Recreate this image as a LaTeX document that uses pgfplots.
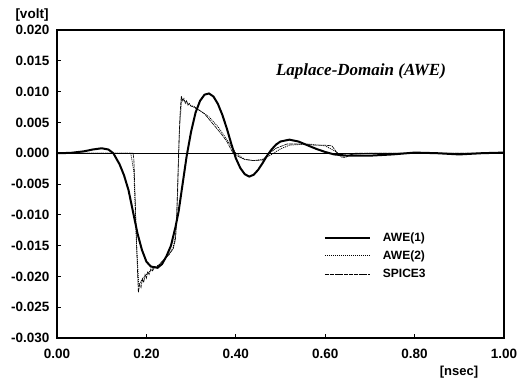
\documentclass[border=0pt]{standalone}
\usepackage{pgfplots}
\pgfplotsset{compat=1.18}
\usepackage{fontspec}
\setmainfont{Liberation Sans}
\newfontfamily\titlefont{Liberation Serif}
\begin{document}
\begin{tikzpicture}[x=1pt,y=1pt]
\useasboundingbox (0,0) rectangle (524,381);
\begin{axis}[
  at={(57pt,43pt)}, anchor=south west,
  scale only axis, width=447pt, height=308pt,
  xmin=0, xmax=1, ymin=-0.030, ymax=0.020,
  axis line style={line width=1.6pt},
  xtick={0,0.2,0.4,0.6,0.8,1.0},
  ytick={-0.030,-0.025,-0.020,-0.015,-0.010,-0.005,0,0.005,0.010,0.015,0.020},
  tick align=inside, xtick pos=bottom, ytick pos=left,
  major tick length=4pt,
  tick style={line width=1pt, black},
  /pgf/number format/assume math mode=true,
  xticklabel style={font=\fontsize{13.5}{15}\selectfont\bfseries, /pgf/number format/.cd, fixed, fixed zerofill, precision=2},
  yticklabel style={font=\fontsize{13.5}{15}\selectfont\bfseries, /pgf/number format/.cd, fixed, fixed zerofill, precision=3},
  scaled y ticks=false, scaled x ticks=false,
  xticklabel shift=8pt, yticklabel shift=4pt,
  legend style={at={(axis cs:0.59,-0.0122)}, anchor=north west, draw=none, fill=none,
    font=\fontsize{12}{13}\selectfont\bfseries, row sep=4pt, column sep=10pt},
  legend cell align=left,
  legend image code/.code={\draw[#1] (0pt,0pt) -- (45pt,0pt);},
  clip=true,
]
\addplot[black, line width=1pt, forget plot] coordinates {(0,0) (1,0)};
\addplot[black, line width=2pt] coordinates {
(0,0) (0.03,0.00005) (0.06,0.0003) (0.08,0.0006) (0.10,0.0008) (0.115,0.0006)
(0.126,0.0) (0.14,-0.0018) (0.15,-0.0036) (0.16,-0.0060) (0.17,-0.0095)
(0.18,-0.0130) (0.19,-0.0157) (0.20,-0.0176) (0.21,-0.0184) (0.225,-0.0186)
(0.235,-0.0180) (0.245,-0.0167) (0.255,-0.0150) (0.265,-0.0120) (0.272,-0.0095)
(0.28,-0.0055) (0.29,-0.0005) (0.30,0.0035) (0.31,0.0066) (0.32,0.0085)
(0.33,0.0095) (0.34,0.0097) (0.35,0.0092) (0.36,0.0080) (0.37,0.0062)
(0.38,0.0040) (0.39,0.0015) (0.40,-0.0008) (0.41,-0.0024) (0.42,-0.0034)
(0.43,-0.0038) (0.44,-0.0035) (0.45,-0.0027) (0.46,-0.0016) (0.47,-0.0004)
(0.48,0.0006) (0.49,0.0014) (0.50,0.0019) (0.52,0.0022) (0.54,0.0019)
(0.56,0.0013) (0.58,0.0007) (0.60,0.0002) (0.62,-0.0002) (0.65,-0.0004)
(0.70,-0.0004) (0.75,-0.0002) (0.80,0.0001) (0.85,0.0000) (0.90,-0.0002)
(0.95,0.0000) (1.00,0.0001)};
\addlegendentry{AWE(1)}
\addplot[black, line width=0.8pt, dash pattern=on 1pt off 1pt] coordinates {
(0,0) (0.165,0) (0.172,-0.003) (0.178,-0.015) (0.183,-0.0215) (0.19,-0.0205)
(0.20,-0.0197) (0.21,-0.0190) (0.22,-0.0185) (0.23,-0.0180) (0.24,-0.0172)
(0.25,-0.0165) (0.26,-0.0153) (0.266,-0.0130) (0.270,-0.0060) (0.274,0.0040)
(0.279,0.0088) (0.29,0.0082) (0.30,0.0077) (0.32,0.0069) (0.34,0.0059)
(0.36,0.0043) (0.38,0.0022) (0.40,0.0000) (0.42,-0.0010) (0.44,-0.0012)
(0.46,-0.0010) (0.48,-0.0002) (0.50,0.0007) (0.52,0.0013) (0.56,0.0015)
(0.60,0.0012) (0.62,0.0004) (0.64,-0.0005) (0.66,-0.0002) (0.70,0.0) (1,0)};
\addlegendentry{AWE(2)}
\addplot[black, line width=0.6pt, dash pattern=on 4pt off 0.8pt] coordinates {
(0,0) (0.17,0) (0.172,-0.001) (0.176,-0.010) (0.180,-0.019) (0.182,-0.0226)
(0.185,-0.0213) (0.188,-0.0218) (0.191,-0.0204) (0.194,-0.0210) (0.197,-0.0197)
(0.200,-0.0203) (0.203,-0.0192) (0.206,-0.0197) (0.210,-0.0188) (0.214,-0.0191)
(0.218,-0.0184) (0.222,-0.0186) (0.23,-0.0180) (0.24,-0.0172) (0.25,-0.0165)
(0.26,-0.0155) (0.265,-0.0140) (0.268,-0.0100) (0.270,-0.0050) (0.272,0.0000)
(0.275,0.0060) (0.278,0.0093) (0.281,0.0085) (0.284,0.0089) (0.287,0.0081)
(0.290,0.0085) (0.293,0.0078) (0.296,0.0081) (0.300,0.0076) (0.305,0.0077)
(0.313,0.0072) (0.32,0.0069) (0.33,0.0064) (0.346,0.0050) (0.36,0.0038)
(0.37,0.0029) (0.38,0.0019) (0.394,0.0000) (0.41,-0.0007) (0.42,-0.0010)
(0.44,-0.0012) (0.46,-0.0011) (0.475,0.0000) (0.49,0.0008) (0.515,0.0015)
(0.54,0.0015) (0.56,0.0014) (0.58,0.0013) (0.60,0.0013) (0.615,0.0012)
(0.625,0.0002) (0.635,-0.0006) (0.645,-0.0007) (0.655,-0.0003) (0.667,0.0000)
(1.0,0.0)};
\addlegendentry{SPICE3}
\end{axis}
\node[font=\titlefont\fontsize{17}{19}\selectfont\bfseries\itshape] at (361,310) {Laplace-Domain (AWE)};
\node[font=\fontsize{13.5}{15}\selectfont\bfseries] at (32,366) {[volt]};
\node[font=\fontsize{13}{15}\selectfont\bfseries] at (459,9) {[nsec]};
\end{tikzpicture}
\end{document}
